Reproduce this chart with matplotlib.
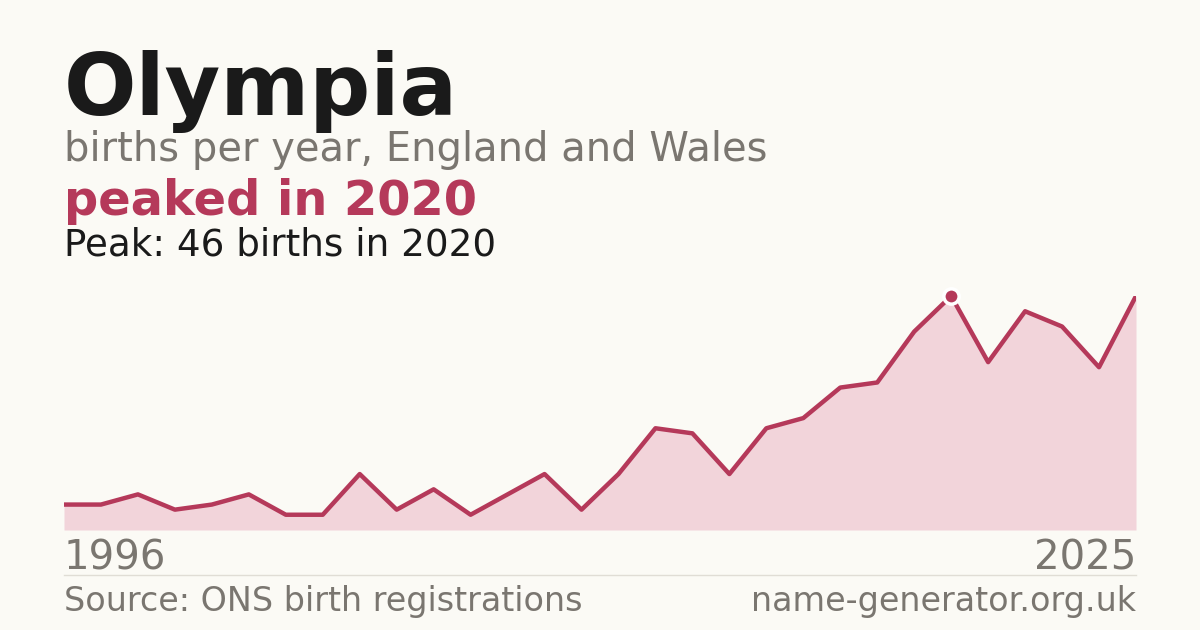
import matplotlib
matplotlib.use("Agg")
import matplotlib.pyplot as plt

years = list(range(1996, 2026))
births = [5, 5, 7, 4, 5, 7, 3, 3, 11, 4, 8, 3, 7, 11, 4, 11, 20, 19, 11, 20,
          22, 28, 29, 39, 46, 33, 43, 40, 32, 46]
title = "Olympia"
subtitle = "births per year, England and Wales"
headline = "peaked in 2020"
peak_text = "Peak: 46 births in 2020"
source = "Source: ONS birth registrations"
site = "name-generator.org.uk"

bg = "#fbfaf5"
line_c = "#b5395a"
fill_c = "#f2d4da"
grey = "#7a7670"

fig = plt.figure(figsize=(12, 6.3), dpi=100, facecolor=bg)
ax = fig.add_axes([64/1200, 1-530/630, 1072/1200, 234/630])
ax.set_facecolor(bg)
ax.fill_between(years, births, 0, color=fill_c, lw=0)
ax.plot(years, births, color=line_c, lw=3.2, solid_joinstyle="round")
pk = births.index(max(births))
ax.plot(years[pk], births[pk], "o", ms=11, color=line_c, mec="white", mew=2.5, clip_on=False, zorder=5)
ax.set_xlim(years[0], years[-1])
ax.set_ylim(0, max(births))
ax.axis("off")

fig.text(64/1200, 1-115/630, title, fontsize=61.5, fontweight="bold", color="#1a1a1a")
fig.text(64/1200, 1-161/630, subtitle, fontsize=28.8, color=grey)
fig.text(64/1200, 1-215/630, headline, fontsize=34.5, fontweight="bold", color=line_c)
fig.text(64/1200, 1-255/630, peak_text, fontsize=26.8, color="#1a1a1a")
fig.text(64/1200, 1-570/630, str(years[0]), fontsize=29, color=grey)
fig.text(1136/1200, 1-570/630, str(years[-1]), fontsize=29, color=grey, ha="right")
fig.add_artist(plt.Line2D([64/1200, 1136/1200], [1-575/630]*2, color="#e0ddd5", lw=1))
fig.text(64/1200, 1-611/630, source, fontsize=24, color=grey)
fig.text(1136/1200, 1-611/630, site, fontsize=24, color=grey, ha="right")
fig.savefig("out.png", facecolor=bg)
